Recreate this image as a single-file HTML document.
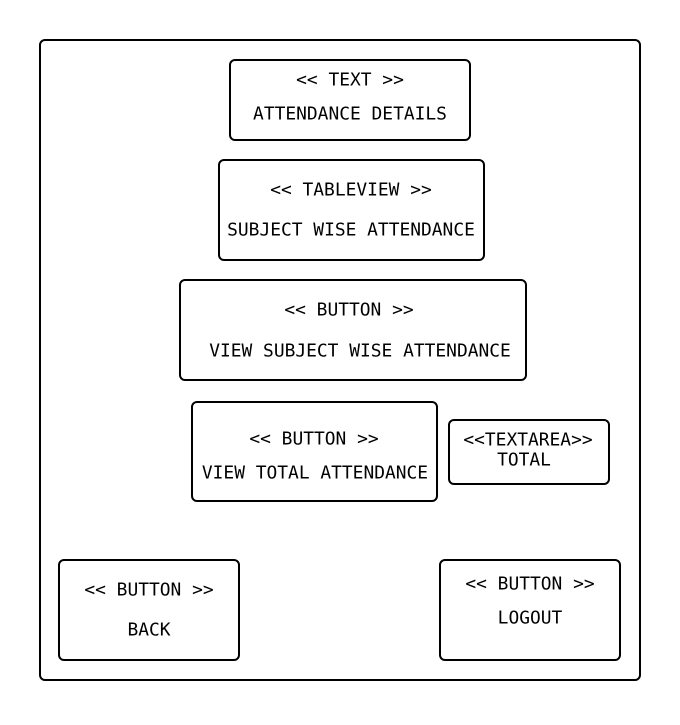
<!DOCTYPE html>
<html><head><meta charset="utf-8"><style>
html,body{margin:0;padding:0;background:#fff;}
svg text{font-family:"DejaVu Sans Mono","Liberation Mono",monospace;font-size:17.9px;fill:#000;text-anchor:middle;dominant-baseline:central;}
</style></head><body>
<svg width="680" height="720" viewBox="0 0 680 720" xmlns="http://www.w3.org/2000/svg">
<g fill="none" stroke="#000" stroke-width="2">
<rect x="40" y="40" width="600" height="640" rx="5"/>
<rect x="230" y="60" width="240" height="80" rx="5"/>
<rect x="219" y="160" width="265" height="100" rx="5"/>
<rect x="180" y="280" width="346" height="100" rx="5"/>
<rect x="192" y="402" width="245" height="99" rx="5"/>
<rect x="449" y="420" width="160" height="64" rx="5"/>
<rect x="59" y="560" width="180" height="100" rx="5"/>
<rect x="440" y="560" width="180" height="100" rx="5"/>
</g>
<text x="350" y="80">&lt;&lt; TEXT &gt;&gt;</text>
<text x="350" y="114">ATTENDANCE DETAILS</text>
<text x="351" y="190">&lt;&lt; TABLEVIEW &gt;&gt;</text>
<text x="351" y="230">SUBJECT WISE ATTENDANCE</text>
<text x="349" y="310">&lt;&lt; BUTTON &gt;&gt;</text>
<text x="360" y="351">VIEW SUBJECT WISE ATTENDANCE</text>
<text x="314" y="439">&lt;&lt; BUTTON &gt;&gt;</text>
<text x="315" y="473">VIEW TOTAL ATTENDANCE</text>
<text x="528" y="440">&lt;&lt;TEXTAREA&gt;&gt;</text>
<text x="524" y="460">TOTAL</text>
<text x="149" y="590">&lt;&lt; BUTTON &gt;&gt;</text>
<text x="149" y="630">BACK</text>
<text x="530" y="584">&lt;&lt; BUTTON &gt;&gt;</text>
<text x="530" y="618">LOGOUT</text>
</svg>
</body></html>
